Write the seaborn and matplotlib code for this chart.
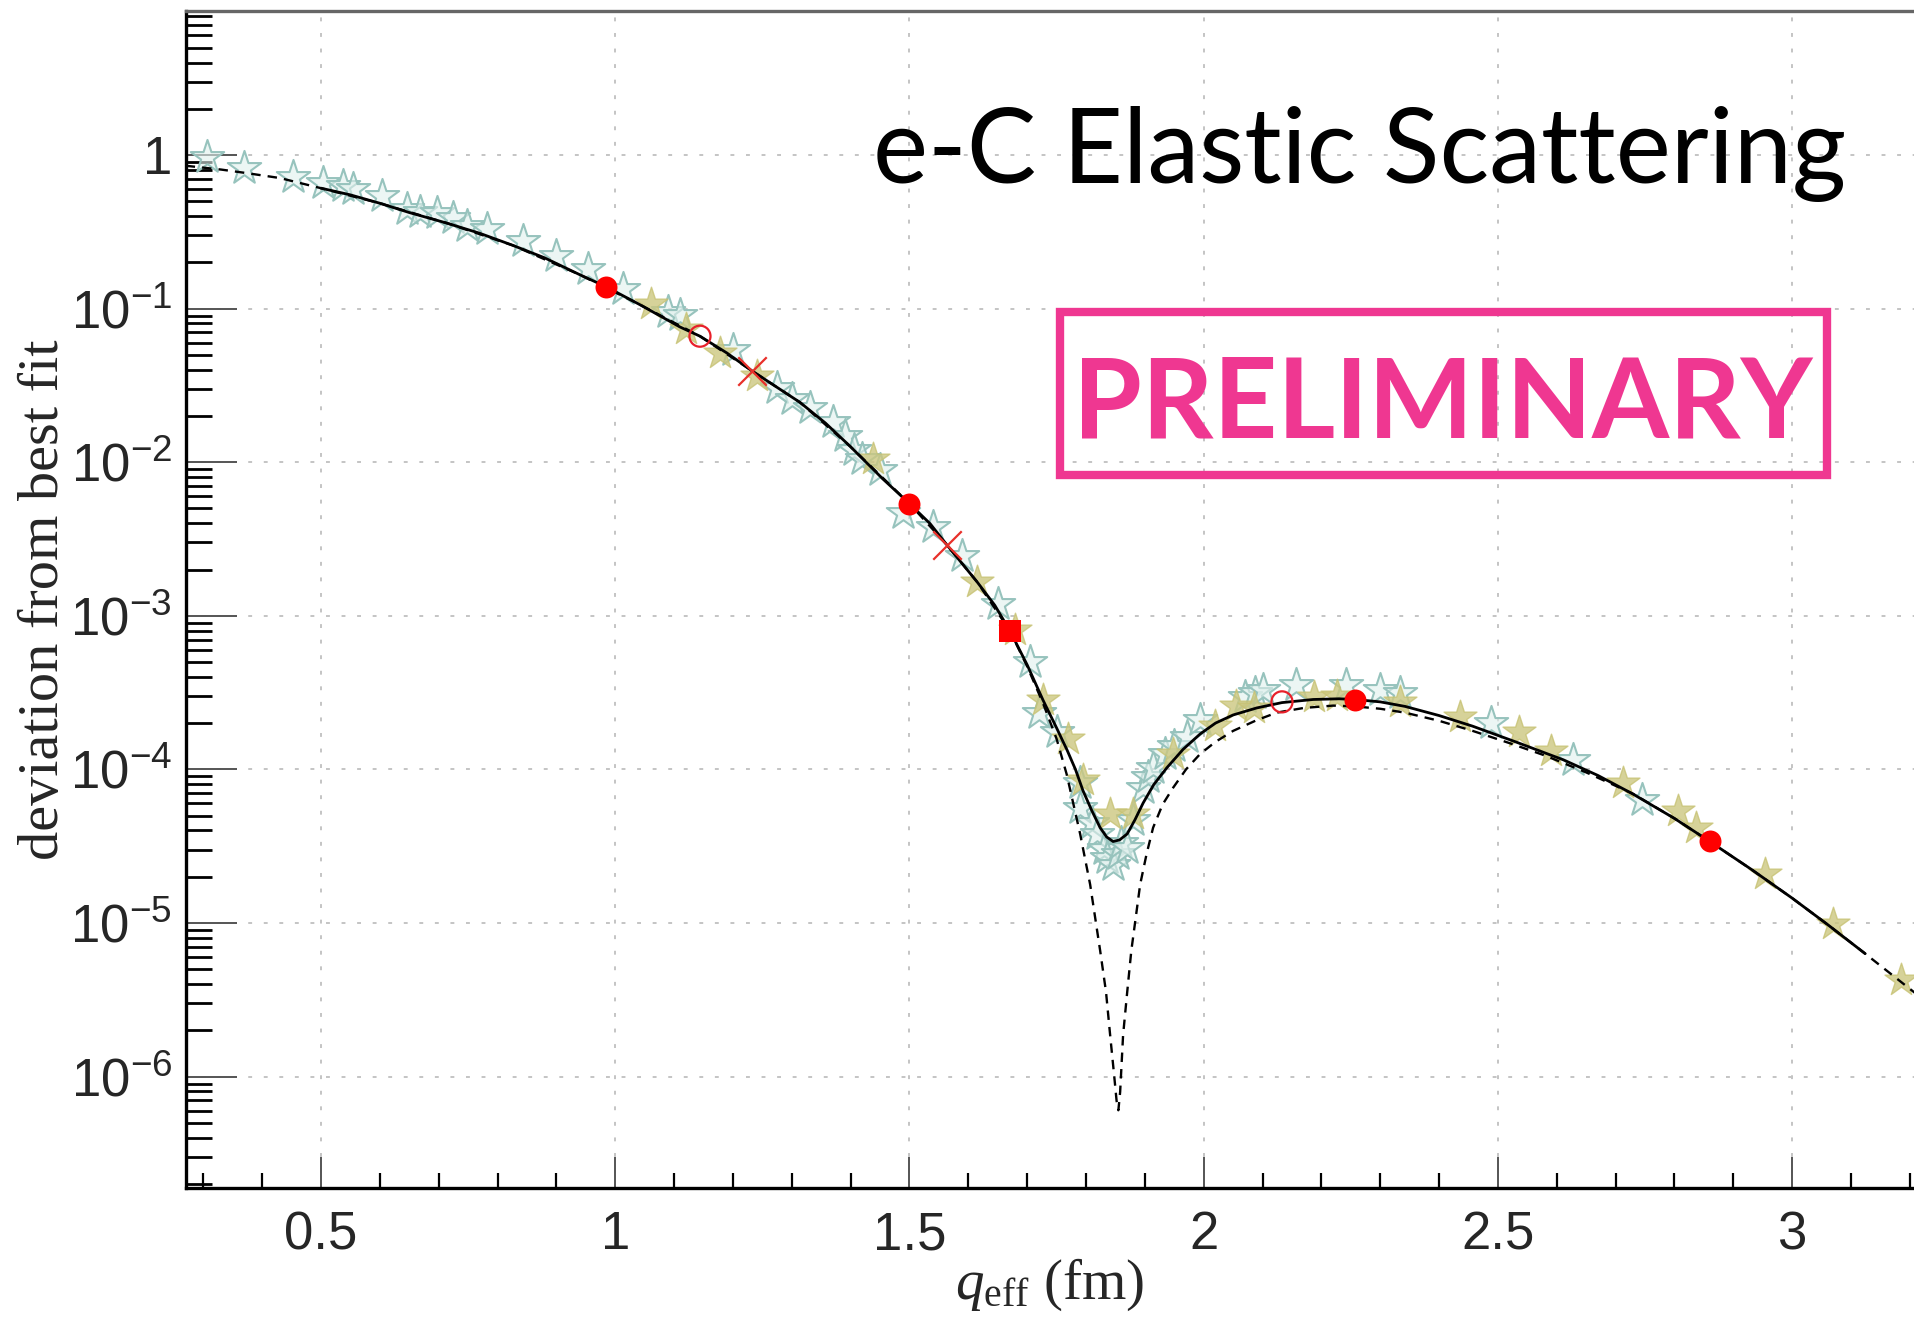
import numpy as np
import matplotlib
matplotlib.use("Agg")
import matplotlib.pyplot as plt
import matplotlib.ticker as mticker
from matplotlib.patches import Rectangle
import seaborn as sns

# solid curve (best fit)
q_fit = [0.50, 0.55, 0.60, 0.65, 0.714, 0.77, 0.826, 0.88, 0.94, 0.984,
         1.04, 1.11, 1.144, 1.19, 1.232, 1.27, 1.314, 1.357, 1.399, 1.455,
         1.50, 1.535, 1.564, 1.615, 1.645, 1.671, 1.70, 1.727, 1.75, 1.768,
         1.782, 1.795, 1.81, 1.824, 1.835, 1.846, 1.857, 1.87, 1.883, 1.897,
         1.915, 1.937, 1.965, 1.994, 2.02, 2.05, 2.09, 2.133, 2.186, 2.23,
         2.257, 2.30, 2.342, 2.40, 2.457, 2.53, 2.612, 2.67, 2.729, 2.80,
         2.86, 2.93, 3.00, 3.06, 3.124]
dev_fit = [0.608, 0.550, 0.485, 0.422, 0.360, 0.309, 0.258, 0.214, 0.166, 0.139,
           0.107, 0.0759, 0.0661, 0.0513, 0.0394, 0.0316, 0.0245, 0.0180, 0.0127, 7.76e-3,
           5.37e-3, 3.98e-3, 2.88e-3, 1.66e-3, 1.17e-3, 7.94e-4, 4.79e-4, 2.82e-4, 1.86e-4, 1.33e-4,
           1.0e-4, 7.24e-5, 5.37e-5, 4.17e-5, 3.63e-5, 3.39e-5, 3.47e-5, 3.80e-5, 4.68e-5, 6.03e-5,
           7.94e-5, 1.02e-4, 1.35e-4, 1.70e-4, 2.0e-4, 2.26e-4, 2.51e-4, 2.72e-4, 2.85e-4, 2.88e-4,
           2.85e-4, 2.75e-4, 2.57e-4, 2.24e-4, 1.91e-4, 1.51e-4, 1.15e-4, 9.12e-5, 6.92e-5, 4.79e-5,
           3.39e-5, 2.24e-5, 1.45e-5, 9.77e-6, 6.31e-6]

# dashed curve
q_alt = [0.27, 0.33, 0.374, 0.43, 0.50, 0.60, 0.714, 0.826, 0.94, 1.04,
         1.144, 1.232, 1.314, 1.399, 1.50, 1.564, 1.615, 1.671, 1.70, 1.727,
         1.75, 1.767, 1.78, 1.79, 1.807, 1.824, 1.834, 1.841, 1.848, 1.852,
         1.855, 1.858, 1.863, 1.870, 1.877, 1.885, 1.892, 1.903, 1.914, 1.93,
         1.948, 1.97, 1.994, 2.02, 2.05, 2.09, 2.124, 2.17, 2.22, 2.257,
         2.30, 2.342, 2.40, 2.457, 2.52, 2.58, 2.65, 2.73, 2.80, 2.86,
         2.93, 3.00, 3.06, 3.124, 3.21]
dev_alt = [0.851, 0.804, 0.762, 0.708, 0.608, 0.485, 0.360, 0.258, 0.166, 0.107,
           0.0661, 0.0394, 0.0245, 0.0127, 5.37e-3, 2.88e-3, 1.66e-3, 7.94e-4, 4.68e-4, 2.69e-4,
           1.58e-4, 9.33e-5, 5.62e-5, 3.80e-5, 1.78e-5, 6.61e-6, 3.55e-6, 1.86e-6, 1.0e-6, 6.92e-7,
           6.03e-7, 7.94e-7, 1.86e-6, 3.55e-6, 6.61e-6, 1.12e-5, 1.78e-5, 2.82e-5, 4.17e-5, 5.89e-5,
           7.59e-5, 1.0e-4, 1.26e-4, 1.51e-4, 1.78e-4, 2.09e-4, 2.34e-4, 2.51e-4, 2.60e-4, 2.57e-4,
           2.48e-4, 2.34e-4, 2.07e-4, 1.78e-4, 1.48e-4, 1.23e-4, 9.55e-5, 6.92e-5, 4.79e-5, 3.39e-5,
           2.24e-5, 1.45e-5, 9.77e-6, 6.31e-6, 3.47e-6]

# pale teal stars
q_teal = [0.306, 0.37, 0.452, 0.503, 0.537, 0.554, 0.604, 0.646, 0.669, 0.697,
          0.725, 0.748, 0.782, 0.843, 0.90, 0.953, 1.013, 1.09, 1.11, 1.20,
          1.275, 1.30, 1.331, 1.37, 1.39, 1.405, 1.42, 1.45, 1.489, 1.54,
          1.59, 1.65, 1.705, 1.72, 1.75, 1.79, 1.79, 1.81, 1.818, 1.83,
          1.835, 1.846, 1.855, 1.86, 1.869, 1.88, 1.897, 1.905, 1.914, 1.935,
          1.95, 1.971, 1.994, 2.07, 2.087, 2.10, 2.157, 2.241, 2.30, 2.334,
          2.488, 2.628, 2.745]
dev_teal = [0.977, 0.822, 0.724, 0.661, 0.631, 0.603, 0.537, 0.447, 0.427, 0.417,
            0.389, 0.347, 0.331, 0.275, 0.219, 0.182, 0.135, 0.0955, 0.0912, 0.0537,
            0.0302, 0.0257, 0.0224, 0.0182, 0.0148, 0.0120, 0.0105, 8.91e-3, 4.68e-3, 3.80e-3,
            2.45e-3, 1.20e-3, 5.01e-4, 2.34e-4, 1.74e-4, 8.13e-5, 5.62e-5, 4.47e-5, 3.80e-5, 3.02e-5,
            2.63e-5, 2.40e-5, 2.82e-5, 3.31e-5, 3.09e-5, 4.68e-5, 7.59e-5, 8.91e-5, 1.02e-4, 1.26e-4,
            1.41e-4, 1.62e-4, 2.09e-4, 2.95e-4, 3.16e-4, 3.31e-4, 3.55e-4, 3.55e-4, 3.31e-4, 3.16e-4,
            2.0e-4, 1.15e-4, 6.31e-5]

# khaki stars
q_khaki = [1.06, 1.12, 1.178, 1.241, 1.438, 1.614, 1.68, 1.727, 1.77, 1.795,
           1.841, 1.88, 1.948, 2.02, 2.055, 2.085, 2.187, 2.226, 2.334, 2.435,
           2.536, 2.59, 2.712, 2.806, 2.837, 2.954, 3.069, 3.185]
dev_khaki = [0.107, 0.0741, 0.0513, 0.0363, 0.0105, 1.66e-3, 8.13e-4, 2.82e-4, 1.58e-4, 8.51e-5,
             5.13e-5, 5.13e-5, 1.26e-4, 1.91e-4, 2.57e-4, 2.51e-4, 2.95e-4, 3.02e-4, 2.75e-4, 2.19e-4,
             1.74e-4, 1.32e-4, 8.13e-5, 5.37e-5, 4.17e-5, 2.09e-5, 9.77e-6, 4.27e-6]

# red points
q_dot = [0.984, 1.50, 2.257, 2.86]
dev_dot = [0.139, 5.37e-3, 2.82e-4, 3.39e-5]
q_ring = [1.144, 2.133]
dev_ring = [0.0661, 2.75e-4]
q_cross = [1.232, 1.564]
dev_cross = [0.0394, 2.88e-3]
q_square = [1.671]
dev_square = [7.94e-4]

y_ticks = [1e-6, 1e-5, 1e-4, 1e-3, 1e-2, 1e-1, 1]
y_ticklabels = ["$10^{-6}$", "$10^{-5}$", "$10^{-4}$", "$10^{-3}$",
                "$10^{-2}$", "$10^{-1}$", "1"]
x_ticks = [0.5, 1, 1.5, 2, 2.5, 3]
x_ticklabels = ["0.5", "1", "1.5", "2", "2.5", "3"]

sns.set_style("white")
plt.rcParams["font.family"] = ["Liberation Sans", "DejaVu Sans"]
plt.rcParams["mathtext.fontset"] = "custom"
plt.rcParams["mathtext.rm"] = "Liberation Serif"
plt.rcParams["mathtext.it"] = "Liberation Serif:italic"
plt.rcParams["mathtext.default"] = "regular"

W, H = 1914, 1317
fig = plt.figure(figsize=(W / 100, H / 100), dpi=100)
ax = fig.add_axes([186 / W, 1 - 1188 / H, (W - 186) / W, (1188 - 11) / H])

# stars underneath the curves
sns.scatterplot(x=q_teal, y=dev_teal, ax=ax, marker="*", s=640,
                color=(0.88, 0.94, 0.93, 0.6), edgecolor="#97c3bd",
                linewidth=1.5, zorder=2)
sns.scatterplot(x=q_khaki, y=dev_khaki, ax=ax, marker="*", s=620,
                color=(0.80, 0.78, 0.50, 0.8), edgecolor=(0.78, 0.76, 0.45, 0.8),
                linewidth=1.0, zorder=2)

sns.lineplot(x=q_alt, y=dev_alt, ax=ax, color="black", lw=1.7,
             linestyle=(0, (4, 3)), estimator=None, sort=False, zorder=3)
sns.lineplot(x=q_fit, y=dev_fit, ax=ax, color="black", lw=2.0,
             estimator=None, sort=False, zorder=4)

sns.scatterplot(x=q_dot, y=dev_dot, ax=ax, marker="o", s=250, color="#ff0000",
                edgecolor="#ff0000", linewidth=0, zorder=5)
sns.scatterplot(x=q_ring, y=dev_ring, ax=ax, marker="o", s=230,
                facecolors="none", edgecolor="#e8202a", linewidth=1.6, zorder=5)
sns.scatterplot(x=q_cross, y=dev_cross, ax=ax, marker="x", s=420,
                color="#e8302a", linewidth=1.6, zorder=5)
sns.scatterplot(x=q_square, y=dev_square, ax=ax, marker="s", s=270,
                color="#ff0000", edgecolor="#ff0000", linewidth=0, zorder=5)

ax.set_yscale("log")
ax.set_xlim(0.2706, 3.207)
ax.set_ylim(1.88e-7, 8.66)

ax.set_xticks(x_ticks, labels=x_ticklabels)
ax.set_yticks(y_ticks, labels=y_ticklabels)
ax.xaxis.set_minor_locator(mticker.MultipleLocator(0.1))
ax.yaxis.set_minor_locator(mticker.LogLocator(base=10, subs=np.arange(2, 10), numticks=30))
ax.yaxis.set_minor_formatter(mticker.NullFormatter())

ax.tick_params(which="both", bottom=True, left=True, top=False, right=False,
               direction="in")
ax.tick_params(axis="both", which="major", labelsize=38, color="#555555", width=1.4)
ax.tick_params(axis="y", which="major", length=37, pad=10)
ax.tick_params(axis="x", which="major", length=22, pad=16)
ax.tick_params(axis="y", which="minor", length=19, width=2.0, color="black")
ax.tick_params(axis="x", which="minor", length=11, width=1.6, color="black")

ax.grid(True, which="major", color="#c4c4c4", lw=1.4, linestyle=(0, (2, 6)))
ax.set_axisbelow(True)

for side in ["left", "bottom"]:
    ax.spines[side].set_linewidth(2.4)
    ax.spines[side].set_color("black")
ax.spines["top"].set_linewidth(2.4)
ax.spines["top"].set_color("#666666")
ax.spines["right"].set_visible(False)

ax.set_xlabel(r"$\mathit{q}_{\mathrm{eff}}$ (fm)", fontsize=41,
              fontfamily="Liberation Serif")
ax.xaxis.set_label_coords(0.5, -0.058)
ax.set_ylabel("deviation from best fit", fontsize=42,
              fontfamily="Liberation Serif", va="center")
ax.yaxis.set_label_coords(-0.082, 0.5)

fig.text(873 / W, 1 - 183 / H, "e-C Elastic Scattering", fontsize=75,
         fontfamily="Lato", ha="left", va="baseline", color="black")

pink = "#ef3791"
fig.patches.append(Rectangle((1060 / W, 1 - 475 / H), (1827 - 1060) / W, (475 - 312) / H,
                             transform=fig.transFigure, fill=False,
                             edgecolor=pink, linewidth=6.0))
fig.text(1443 / W, 1 - 437 / H, "PRELIMINARY", fontsize=80, fontweight="bold",
         fontfamily="Lato", ha="center", va="baseline", color=pink)

fig.savefig("out.png", dpi=100)
